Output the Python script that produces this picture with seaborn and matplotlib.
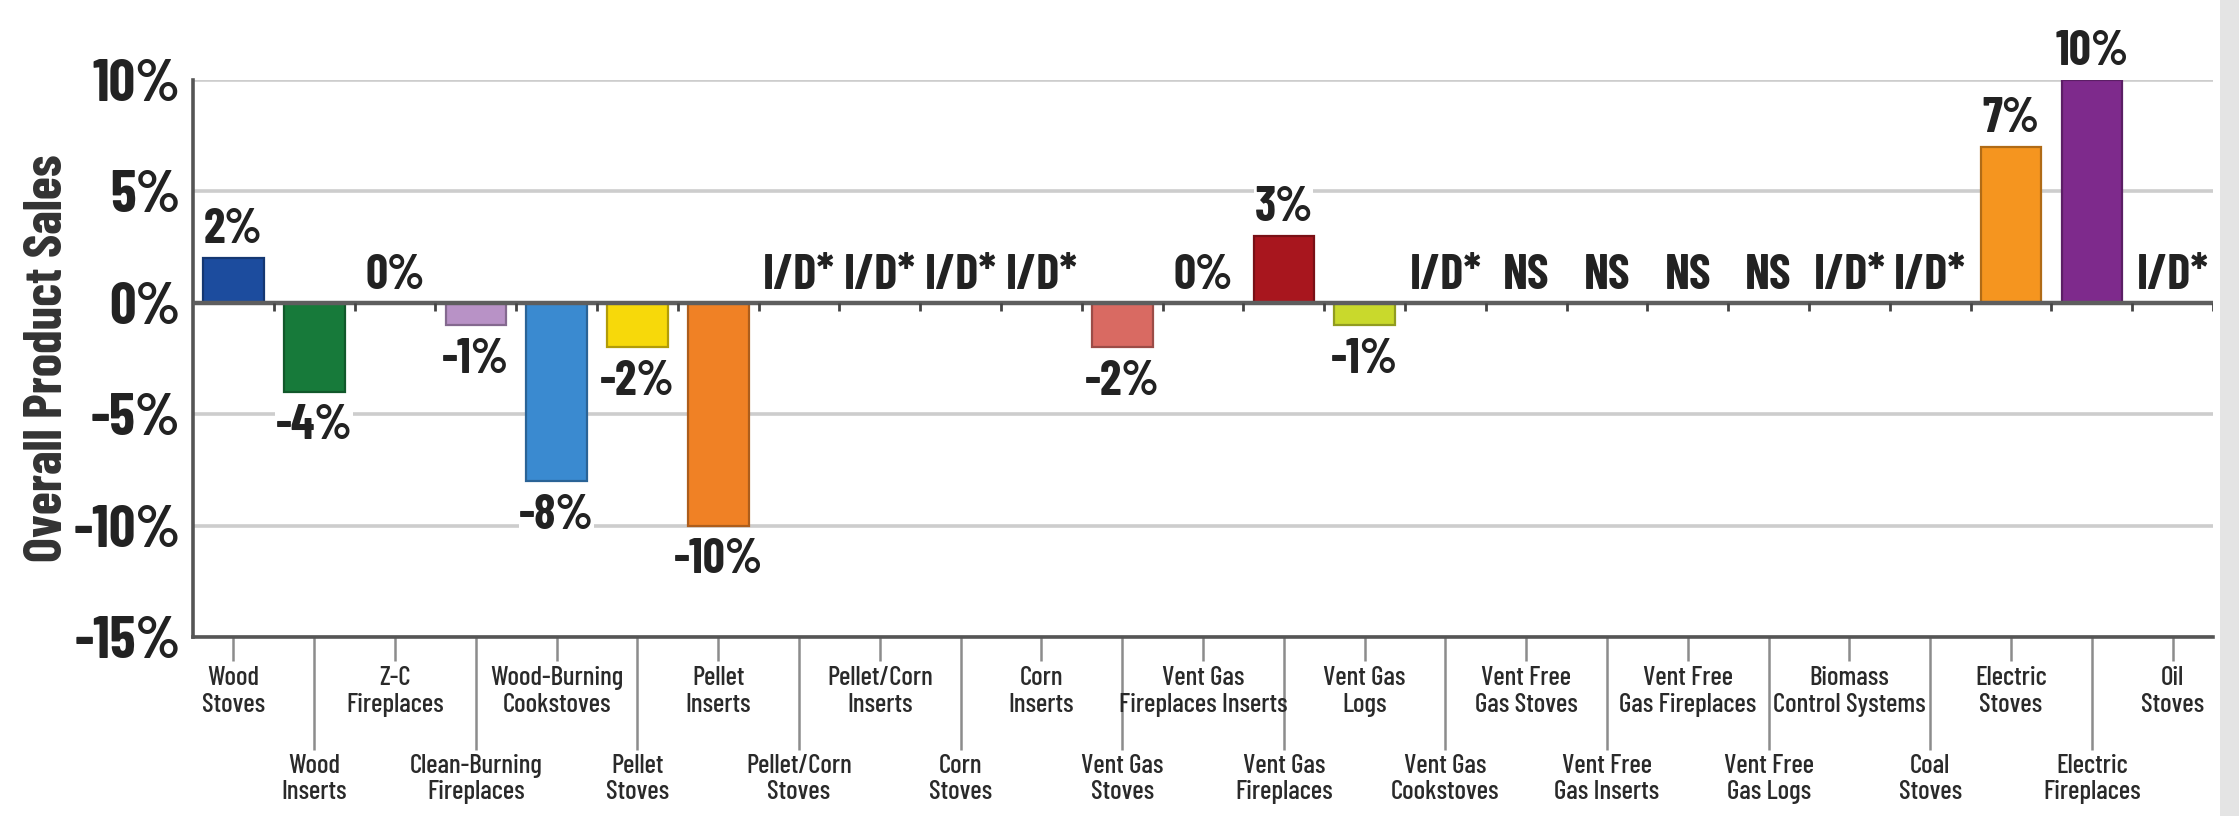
import numpy as np
import pandas as pd
import matplotlib
matplotlib.use("Agg")
import matplotlib.pyplot as plt
from matplotlib.patches import Rectangle
from matplotlib.colors import to_rgb
import seaborn as sns

# ---------------- data ----------------
categories = [
    "Wood\nStoves", "Wood\nInserts", "Z-C\nFireplaces", "Clean-Burning\nFireplaces",
    "Wood-Burning\nCookstoves", "Pellet\nStoves", "Pellet\nInserts", "Pellet/Corn\nStoves",
    "Pellet/Corn\nInserts", "Corn\nStoves", "Corn\nInserts", "Vent Gas\nStoves",
    "Vent Gas\nFireplaces Inserts", "Vent Gas\nFireplaces", "Vent Gas\nLogs",
    "Vent Gas\nCookstoves", "Vent Free\nGas Stoves", "Vent Free\nGas Inserts",
    "Vent Free\nGas Fireplaces", "Vent Free\nGas Logs", "Biomass\nControl Systems",
    "Coal\nStoves", "Electric\nStoves", "Electric\nFireplaces", "Oil\nStoves",
]
sales_change = [2, -4, 0, -1, -8, -2, -10, None, None, None, None, -2, 0, 3, -1,
                None, None, None, None, None, None, None, 7, 10, None]
value_labels = ["2%", "-4%", "0%", "-1%", "-8%", "-2%", "-10%", "I/D*", "I/D*", "I/D*",
                "I/D*", "-2%", "0%", "3%", "-1%", "I/D*", "NS", "NS", "NS", "NS",
                "I/D*", "I/D*", "7%", "10%", "I/D*"]
bar_colors = ["#1c4c9e", "#177a3a", "#ffffff", "#b892c6", "#3a8ad0", "#f7d90a",
              "#f08125", "#ffffff", "#ffffff", "#ffffff", "#ffffff", "#d96a62",
              "#ffffff", "#a8161e", "#c9d92c", "#ffffff", "#ffffff", "#ffffff",
              "#ffffff", "#ffffff", "#ffffff", "#ffffff", "#f5951f", "#7e2a8c", "#ffffff"]
y_ticks = [10, 5, 0, -5, -10, -15]
y_tick_labels = ["10%", "5%", "0%", "-5%", "-10%", "-15%"]
y_label = "Overall Product Sales"

# ---------------- style ----------------
sns.set_style("white")
COND = ["Barlow Condensed", "DejaVu Sans"]
plt.rcParams["font.family"] = COND
TXT = "#222222"

df = pd.DataFrame({
    "category": categories,
    "value": [v if v is not None else 0 for v in sales_change],
})
palette = dict(zip(categories, bar_colors))

fig = plt.figure(figsize=(22.39, 8.16), dpi=100)
ax = fig.add_axes([0.0862, 0.2194, 0.9022, 0.6826])

sns.barplot(data=df, x="category", y="value", hue="category", palette=palette,
            legend=False, width=0.75, saturation=1, ax=ax, zorder=2)

# bar edges (darker shade of fill); zero-height bars hidden
bars = [p for c in ax.containers for p in c]
for bar, v, col in zip(bars, sales_change, bar_colors):
    if v is None or v == 0:
        bar.set_visible(False)
    else:
        dark = tuple(c * 0.72 for c in to_rgb(col))
        bar.set_edgecolor(dark)
        bar.set_linewidth(1.6)

ax.set_xlim(-0.5, len(categories) - 0.5)
ax.set_ylim(-15, 10)

# y axis
ax.set_yticks(y_ticks, y_tick_labels)
ax.tick_params(axis="y", length=0, pad=9, labelsize=42, labelcolor=TXT)
for lbl in ax.get_yticklabels():
    lbl.set_fontweight("bold")
ax.yaxis.grid(True, color="#cdcdcd", linewidth=2.6)
ax.set_axisbelow(True)
ax.set_ylabel(y_label, fontsize=38, fontweight="bold", color="#333333")
ax.yaxis.set_label_coords(-0.060, 0.5)

# x axis: alternating two rows of labels with leader lines
pos = np.array([b.get_x() + b.get_width() / 2 for b in bars])
idx = np.arange(len(categories))
ax.set_xticks(pos[idx % 2 == 1], [categories[i] for i in idx if i % 2 == 1])
ax.set_xticks(pos[idx % 2 == 0], [categories[i] for i in idx if i % 2 == 0], minor=True)
ax.tick_params(axis="x", which="both", bottom=True, direction="out", width=1.8,
               color="#8c8c8c", labelsize=19.5, labelcolor="#2a2a2a")
ax.tick_params(axis="x", which="major", length=81, pad=3)
ax.tick_params(axis="x", which="minor", length=17, pad=4)
for lbl in ax.get_xticklabels(which="both"):
    lbl.set_linespacing(1.15)
    lbl.set_fontweight("medium")
ax.set_xlabel("")

# spines
for s in ["top", "right"]:
    ax.spines[s].set_visible(False)
for s in ["left", "bottom"]:
    ax.spines[s].set_color("#555555")
    ax.spines[s].set_linewidth(2.6)

# zero line with boundary ticks
ax.axhline(0, color="#5e5e5e", linewidth=3.2, zorder=3)
ax.vlines(pos + 0.5, 0, -0.35, color="#444444", linewidth=2, zorder=3)

# value labels
for x, v, t in zip(pos, sales_change, value_labels):
    if v is not None and v > 0:
        y, off, va = v, 11, "baseline"
    elif v is not None and v < 0:
        y, off, va = v, -9, "top"
    else:
        y, off, va = 0, 10, "baseline"
    ax.annotate(t, (x, y), xytext=(0, off), textcoords="offset points",
                ha="center", va=va, fontsize=35, fontweight="bold", color=TXT,
                annotation_clip=False, zorder=4,
                bbox=dict(facecolor="white", edgecolor="none", pad=0.5))

# light grey band on the right edge
fig.patches.append(Rectangle((0.9915, 0), 0.0085, 1, transform=fig.transFigure,
                             facecolor="#e4e4e4", edgecolor="none"))

fig.savefig("out.png", dpi=100, facecolor="white")
